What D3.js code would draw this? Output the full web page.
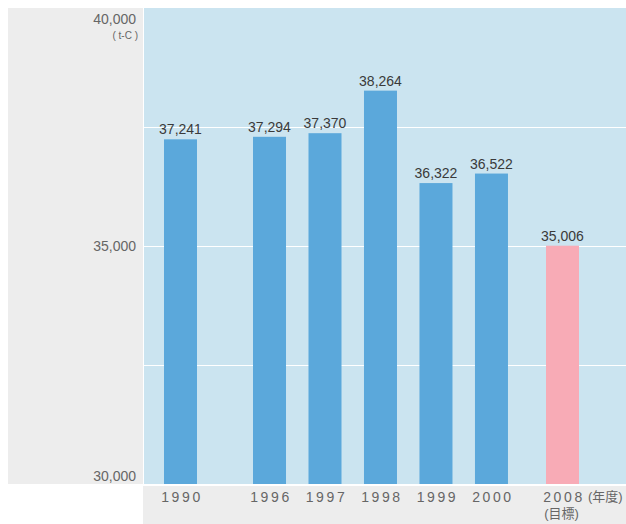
<!DOCTYPE html>
<html>
<head>
<meta charset="utf-8">
<script src="https://cdn.jsdelivr.net/npm/d3@7/dist/d3.min.js"></script>
<style>
  body { margin: 0; background: #fff; }
  svg { display: block; font-family: "Liberation Sans", Arial, "Noto Sans CJK JP", sans-serif; }
</style>
</head>
<body>
<svg id="chart" width="626" height="524"></svg>
<script>
const years = ['1990', '1996', '1997', '1998', '1999', '2000', '2008'];
const values = [37241, 37294, 37370, 38264, 36322, 36522, 35006];
const isTarget = [false, false, false, false, false, false, true];
const yTicks = [30000, 35000, 40000];
const gridLines = [32500, 35000, 37500];

// spacing between categories, in bar steps (the chart is not evenly spaced)
const slotGaps = [0, 1.604, 1, 1, 1, 1, 1.28];
const slots = d3.cumsum(slotGaps);

const svg = d3.select('#chart');
const plot = { left: 144, right: 626, top: 8, bottom: 484 };

const y = d3.scaleLinear().domain([30000, 40000]).range([plot.bottom, plot.top]);
const x = d3.scaleLinear().domain([0, slots[slots.length - 1]]).range([180.5, 562.5]);
const barW = 33;

// backgrounds
svg.append('rect').attr('x', 8).attr('y', 8).attr('width', plot.left - 1 - 8).attr('height', plot.bottom - 8)
    .attr('fill', '#ededed');
svg.append('rect').attr('x', 143).attr('y', 486).attr('width', 626 - 143).attr('height', 524 - 486)
    .attr('fill', '#ededed');
svg.append('rect').attr('x', plot.left).attr('y', plot.top).attr('width', plot.right - plot.left)
    .attr('height', plot.bottom - plot.top).attr('fill', '#cbe4f0');

// grid
svg.selectAll('.grid').data(gridLines).enter().append('line')
    .attr('x1', plot.left).attr('x2', plot.right)
    .attr('y1', d => Math.round(y(d)) + 0.5).attr('y2', d => Math.round(y(d)) + 0.5)
    .attr('stroke', '#fff').attr('stroke-width', 1);

// y tick labels
const fmt = d3.format(',');
svg.selectAll('.ytick').data(yTicks).enter().append('text')
    .attr('x', 136)
    .attr('y', d => d === 40000 ? 24 : d === 30000 ? 481 : y(d) + 5)
    .attr('text-anchor', 'end')
    .attr('font-size', '14px')
    .attr('fill', '#666')
    .text(d => fmt(d));

svg.append('text')
    .attr('x', 138).attr('y', 38.5)
    .attr('text-anchor', 'end')
    .attr('font-size', '10px')
    .attr('fill', '#666')
    .style('white-space', 'pre')
    .text('( t-C )');

// bars
const data = years.map((yr, i) => ({ year: yr, value: values[i], target: isTarget[i], slot: slots[i] }));

svg.selectAll('.bar').data(data).enter().append('rect')
    .attr('x', d => x(d.slot) - barW / 2)
    .attr('y', d => y(d.value))
    .attr('width', barW)
    .attr('height', d => plot.bottom - y(d.value))
    .attr('fill', d => d.target ? '#f8abb6' : '#5ba8db');

svg.selectAll('.val').data(data).enter().append('text')
    .attr('x', d => x(d.slot))
    .attr('y', d => y(d.value) - 5)
    .attr('text-anchor', 'middle')
    .attr('font-size', '14px')
    .attr('fill', '#3a3a3a')
    .text(d => fmt(d.value));

// x labels
svg.selectAll('.xlab').data(data).enter().append('text')
    .attr('x', d => x(d.slot) + 1.5)
    .attr('y', 502)
    .attr('text-anchor', 'middle')
    .attr('font-size', '14px')
    .attr('letter-spacing', '2.6px')
    .attr('fill', '#666')
    .text(d => d.year);

svg.append('text')
    .attr('x', x(slots[6]) - 1).attr('y', 518)
    .attr('text-anchor', 'middle')
    .attr('font-size', '13px')
    .attr('fill', '#666')
    .text('(目標)');

svg.append('text')
    .attr('x', 588).attr('y', 501)
    .attr('font-size', '13px')
    .attr('fill', '#666')
    .text('(年度)');
</script>
</body>
</html>
